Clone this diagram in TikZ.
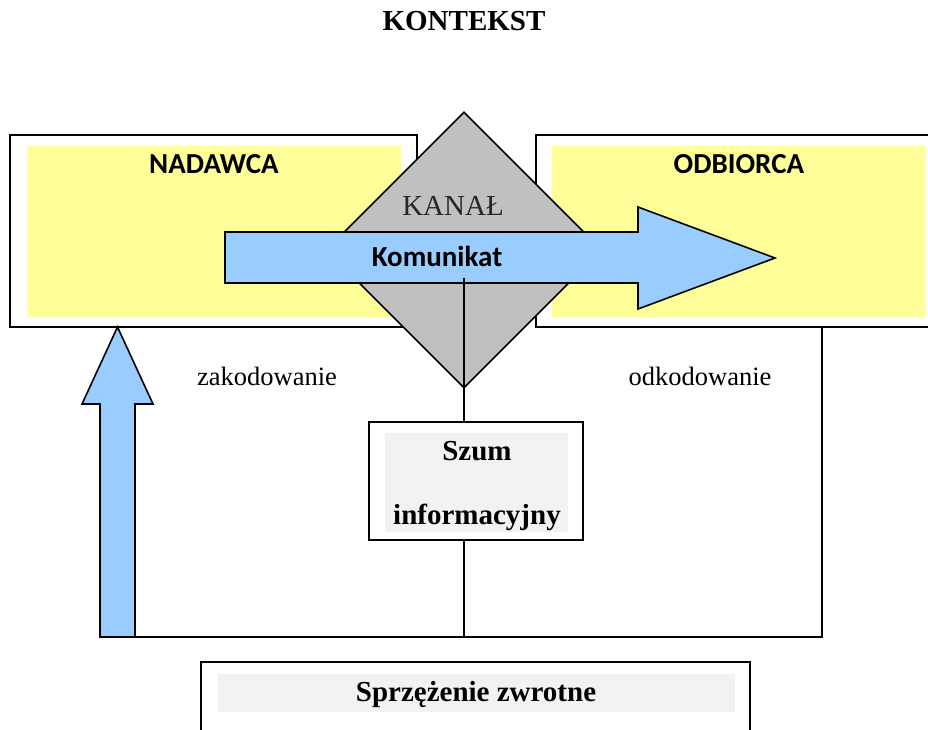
\documentclass[tikz,border=0pt]{standalone}
\usepackage{fontspec}
\setmainfont{Liberation Serif}
\newfontfamily\labelsans{Carlito}
\usetikzlibrary{shapes.geometric}
\definecolor{paleyellow}{HTML}{FFFF99}
\definecolor{msgblue}{HTML}{99CCFF}
\definecolor{chgray}{HTML}{C0C0C0}
\definecolor{panelgray}{HTML}{F2F2F2}
\tikzset{
  frame/.style={draw=black, line width=1.6pt, fill=white, inner sep=0pt},
  panel/.style={fill=#1, draw=none, inner sep=0pt},
  sanshead/.style={font=\labelsans\bfseries\fontsize{29}{34}\selectfont, inner sep=0pt, anchor=base},
  serifhead/.style={font=\bfseries\fontsize{29}{34}\selectfont, inner sep=0pt, anchor=base},
  seriftext/.style={font=\fontsize{26.5}{31}\selectfont, inner sep=0pt, anchor=base},
  wire/.style={draw=black, line width=1.6pt},
  shapeline/.style={draw=black, line width=1.6pt, line join=miter},
}
\begin{document}
\begin{tikzpicture}[x=1pt, y=-1pt]
  \clip (0,0) rectangle (928,729);
  \fill[white] (0,0) rectangle (928,729);

  % title
  \node[serifhead] (kontekst) at (464,30) {KONTEKST};

  % sender
  \node[frame, minimum width=407pt, minimum height=192pt] (nad) at (213.5,231) {};
  \node[panel=paleyellow, minimum width=374pt, minimum height=171pt] (nadin) at (214,231.5) {};
  \node[sanshead] (nadt) at (214,173) {NADAWCA};

  % receiver
  \node[frame, minimum width=404pt, minimum height=192pt] (odb) at (738,231) {};
  \node[panel=paleyellow, minimum width=374pt, minimum height=171pt] (odbin) at (739,231.5) {};
  \node[sanshead] (odbt) at (739,173) {ODBIORCA};

  % feedback loop wiring
  \coordinate (odbfoot) at (822,637);
  \coordinate (midfoot) at (464,637);
  \coordinate (leftfoot) at (135,637);
  \draw[wire] (odb.south -| odbfoot) -- (odbfoot) -- (leftfoot);

  % encoding arrow (points up into the sender)
  \draw[shapeline, fill=msgblue]
    (100,637) -- (100,404) -- (82,404) -- (117.5,327) -- (153,404) -- (135,404) -- (135,637) -- cycle;

  \node[seriftext] (zak) at (267,385) {zakodowanie};
  \node[seriftext] (odk) at (700,385) {odkodowanie};

  % channel
  \node[shapeline, diamond, fill=chgray, minimum width=276pt, minimum height=276pt, inner sep=0pt] (kanal) at (464,250) {};
  \node[seriftext, font=\fontsize{29}{34}\selectfont, text=black!85] (kanalt) at (453,215) {KANAŁ};

  % message arrow
  \draw[shapeline, fill=msgblue]
    (225,232) -- (638,232) -- (638,207) -- (775,258) -- (638,309) -- (638,283) -- (225,283) -- cycle;
  \node[sanshead] (kom) at (437,266) {Komunikat};
  \coordinate (komfoot) at (464,278);

  % noise
  \node[frame, minimum width=214pt, minimum height=118pt] (szum) at (476,481) {};
  \node[panel=panelgray, minimum width=183pt, minimum height=99pt] (szumin) at (476.5,482.5) {};
  \node[serifhead] (szumt1) at (477,460) {Szum};
  \node[serifhead] (szumt2) at (477,524) {informacyjny};
  \draw[wire] (komfoot) -- (komfoot |- szum.north);
  \draw[wire] (midfoot |- szum.south) -- (midfoot);

  % feedback
  \node[frame, minimum width=549pt, minimum height=90pt] (spr) at (475.5,707) {};
  \node[panel=panelgray, minimum width=517pt, minimum height=38pt] (sprin) at (476.5,693) {};
  \node[serifhead] (sprt) at (476,701) {Sprzężenie zwrotne};
\end{tikzpicture}
\end{document}
